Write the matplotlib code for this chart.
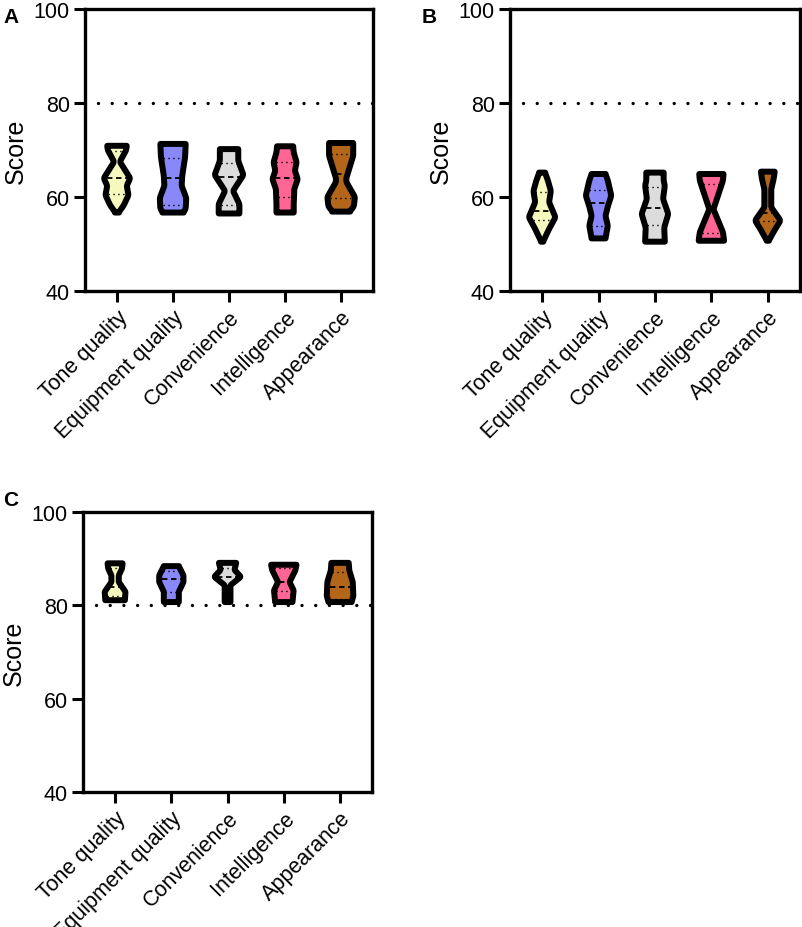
import numpy as np
import matplotlib
matplotlib.use("Agg")
import matplotlib.pyplot as plt

plt.rcParams['font.family'] = ['Liberation Sans', 'DejaVu Sans']

categories = ["Tone quality", "Equipment quality", "Convenience", "Intelligence", "Appearance"]
colors = ["#F5F9BE", "#8888F8", "#DCDCDC", "#FF6695", "#B3651A"]
threshold = 80

# violin outlines: score levels (top -> bottom) and half-width (density, px-like units)
a_levels = [
    [70.9, 70.0, 67.5, 64.0, 62.4, 60.4, 58.3, 56.7],
    [71.3, 68.5, 64.5, 62.4, 59.8, 57.5, 56.7],
    [70.2, 67.7, 64.7, 63.0, 61.3, 58.5, 56.5],
    [70.8, 69.5, 67.4, 65.6, 63.8, 61.7, 58.5, 56.7],
    [71.5, 68.8, 64.0, 63.2, 60.0, 58.0, 56.9],
]
a_widths = [
    [8.5, 8.0, 2.5, 11.5, 8.5, 10.0, 6.0, 1.5],
    [11.0, 10.5, 8.0, 7.5, 11.5, 11.0, 9.0],
    [8.0, 8.0, 12.5, 8.0, 3.5, 9.0, 9.0],
    [7.0, 7.5, 10.0, 8.5, 11.0, 8.0, 7.5, 7.5],
    [10.5, 10.5, 4.5, 4.5, 12.0, 11.0, 7.5],
]
a_quartiles = [
    [69.9, 64.0, 60.6],
    [68.4, 64.0, 58.2],
    [67.2, 64.3, 58.4],
    [67.5, 64.0, 60.1],
    [69.1, 64.9, 59.8],
]

b_levels = [
    [65.2, 63.5, 61.3, 58.9, 55.7, 53.2, 50.5],
    [64.9, 63.5, 60.3, 58.0, 56.0, 53.9, 51.2],
    [65.2, 63.5, 62.4, 59.6, 56.4, 53.5, 50.5],
    [64.9, 63.5, 57.4, 52.5, 50.7],
    [65.4, 63.8, 61.7, 57.8, 55.0, 53.0, 50.7],
]
b_widths = [
    [2.5, 5.0, 7.5, 6.0, 11.5, 6.0, 0.8],
    [6.0, 8.0, 11.0, 8.0, 6.0, 8.0, 6.0],
    [7.5, 7.5, 8.5, 7.0, 11.5, 8.0, 8.5],
    [10.5, 10.0, 1.8, 10.0, 11.0],
    [6.0, 5.0, 3.0, 3.0, 11.0, 6.0, 0.8],
]
b_quartiles = [
    [61.1, 57.1, 55.1],
    [61.5, 58.7, 53.8],
    [62.1, 57.6, 54.1],
    [62.8, 57.1, 52.3],
    [62.8, 56.5, 54.8],
]

c_levels = [
    [89.0, 87.9, 86.4, 85.0, 82.9, 81.1],
    [88.4, 86.4, 85.0, 82.9, 80.7],
    [89.1, 87.6, 86.1, 84.3, 81.5, 80.7],
    [88.7, 87.5, 85.0, 83.2, 80.7],
    [89.1, 87.5, 85.0, 82.0, 80.7],
]
c_widths = [
    [6.5, 6.0, 3.2, 3.2, 9.0, 8.5],
    [6.5, 10.5, 10.5, 6.5, 6.5],
    [7.5, 6.0, 11.5, 2.5, 2.5, 2.5],
    [11.0, 10.0, 5.0, 8.5, 7.5],
    [7.5, 8.0, 11.0, 11.5, 10.0],
]
c_quartiles = [
    [88.0, 83.9, 82.0],
    [87.3, 85.6, 82.9],
    [88.0, 86.1, 83.2],
    [88.0, 85.1, 83.0],
    [87.1, 83.9, 81.3],
]

WIDTH_SCALE = 1.15 / 56.0


def smooth_profile(ys, ws, n=160, win=9):
    # resample the outline on a fine grid and soften the corners a little
    ys = np.array(ys)[::-1]
    ws = np.array(ws)[::-1]
    grid = np.linspace(ys[0], ys[-1], n)
    hw = np.interp(grid, ys, ws)
    pad = np.concatenate([np.full(win, hw[0]), hw, np.full(win, hw[-1])])
    kern = np.ones(win) / win
    hw = np.convolve(pad, kern, mode='same')[win:-win]
    return grid, hw * WIDTH_SCALE


def draw_panel(ax, levels, widths, quartiles):
    ax.axhline(threshold, xmin=0.045, xmax=1, color='black', lw=2.4,
               linestyle=(0, (0.01, 4.1)), dash_capstyle='round', zorder=1)
    for i, (ys, ws) in enumerate(zip(levels, widths)):
        grid, hw = smooth_profile(ys, ws)
        xs = np.concatenate([i + hw, (i - hw)[::-1]])
        yy = np.concatenate([grid, grid[::-1]])
        ax.fill(xs, yy, facecolor=colors[i], edgecolor='black', lw=4.3,
                joinstyle='round', zorder=3)
        for k, q in enumerate(quartiles[i]):
            w = np.interp(q, grid, hw) * 0.8
            if k == 1:
                ax.plot([i - w, i + w], [q, q], color='black', lw=1.3,
                        linestyle=(0, (3, 2)), zorder=4)
            else:
                ax.plot([i - w, i + w], [q, q], color='black', lw=1.0,
                        linestyle=(0, (1, 2.5)), zorder=4)

    ax.set_xlim(-0.57, 4.57)
    ax.set_ylim(40, 100)
    ax.set_yticks([40, 60, 80, 100])
    ax.set_xticks(range(len(categories)))
    ax.set_xticklabels(categories, rotation=45, ha='right', rotation_mode='anchor')
    ax.set_ylabel("Score", fontsize=18, labelpad=4)
    for s in ax.spines.values():
        s.set_linewidth(2.4)
    ax.tick_params(axis='both', which='major', length=8, width=2.2,
                   labelsize=15.5, pad=3)


fig = plt.figure(figsize=(8.03, 9.28), dpi=100)
ax_a = fig.add_axes([0.1059, 0.6853, 0.3587, 0.3039])
ax_b = fig.add_axes([0.6351, 0.6853, 0.3611, 0.3039])
ax_c = fig.add_axes([0.1034, 0.1455, 0.3600, 0.3017])

draw_panel(ax_a, a_levels, a_widths, a_quartiles)
draw_panel(ax_b, b_levels, b_widths, b_quartiles)
draw_panel(ax_c, c_levels, c_widths, c_quartiles)

fig.text(0.004, 0.991, "A", fontsize=15, fontweight='bold', va='top')
fig.text(0.525, 0.991, "B", fontsize=15, fontweight='bold', va='top')
fig.text(0.004, 0.471, "C", fontsize=15, fontweight='bold', va='top')

fig.savefig("out.png", dpi=100)
